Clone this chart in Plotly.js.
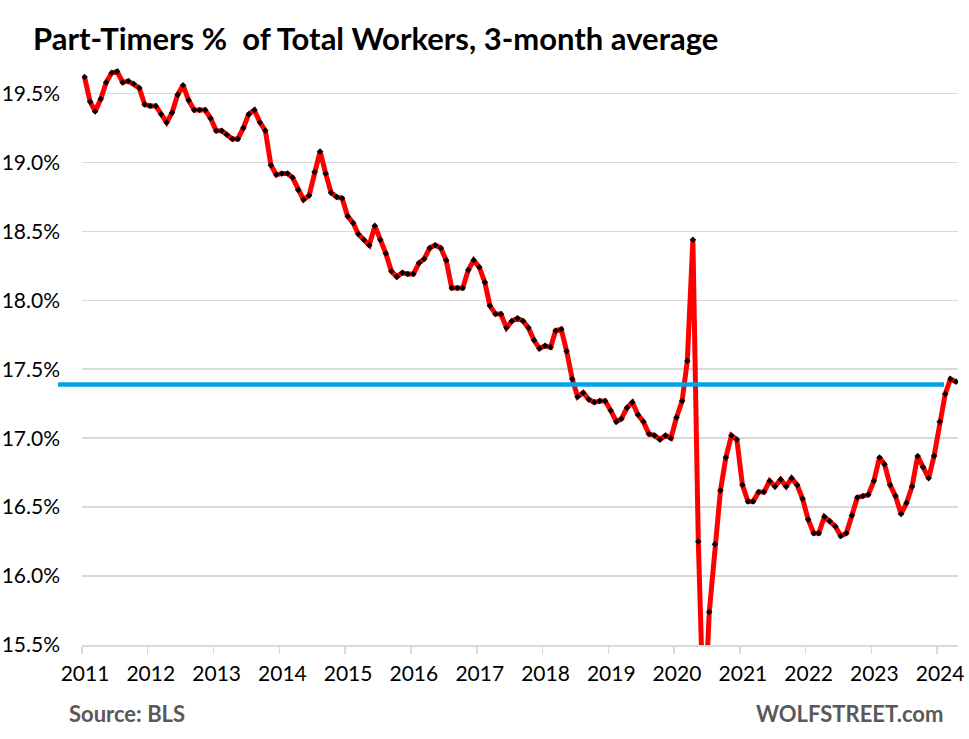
<!DOCTYPE html>
<html>
<head>
<meta charset="utf-8">
<script src="https://cdn.plot.ly/plotly-3.0.1.min.js"></script>
<style>html,body{margin:0;padding:0;background:#fff;}#chart{width:969px;height:739px;}</style>
</head>
<body>
<div id="chart"></div>
<script>
// Monthly data, Jan 2011 .. Apr 2024 (3-month average, % of total workers)
const startYear = 2011;
const v2011 = [19.62, 19.44, 19.37, 19.46, 19.58, 19.65, 19.66, 19.58, 19.59, 19.57, 19.54, 19.42];
const v2012 = [19.41, 19.41, 19.35, 19.29, 19.36, 19.49, 19.56, 19.45, 19.38, 19.38, 19.38, 19.32];
const v2013 = [19.23, 19.23, 19.20, 19.17, 19.17, 19.25, 19.35, 19.38, 19.29, 19.23, 18.98, 18.91];
const v2014 = [18.92, 18.92, 18.89, 18.80, 18.73, 18.76, 18.93, 19.08, 18.92, 18.78, 18.75, 18.74];
const v2015 = [18.61, 18.56, 18.48, 18.44, 18.40, 18.54, 18.44, 18.34, 18.21, 18.17, 18.20, 18.19];
const v2016 = [18.19, 18.27, 18.30, 18.38, 18.40, 18.38, 18.29, 18.09, 18.09, 18.09, 18.22, 18.29];
const v2017 = [18.24, 18.13, 17.96, 17.90, 17.90, 17.80, 17.85, 17.87, 17.85, 17.80, 17.71, 17.65];
const v2018 = [17.67, 17.66, 17.78, 17.79, 17.63, 17.43, 17.30, 17.33, 17.28, 17.26, 17.27, 17.27];
const v2019 = [17.20, 17.12, 17.14, 17.22, 17.26, 17.17, 17.12, 17.03, 17.02, 16.99, 17.02, 17.00];
const v2020 = [17.15, 17.27, 17.56, 18.44, 16.25, 14.90, 15.74, 16.23, 16.62, 16.86, 17.02, 16.99];
const v2021 = [16.66, 16.54, 16.54, 16.61, 16.61, 16.69, 16.65, 16.70, 16.65, 16.71, 16.66, 16.56];
const v2022 = [16.41, 16.31, 16.31, 16.43, 16.40, 16.36, 16.29, 16.31, 16.44, 16.57, 16.58, 16.59];
const v2023 = [16.69, 16.86, 16.81, 16.66, 16.58, 16.45, 16.53, 16.65, 16.87, 16.79, 16.71, 16.87];
const v2024 = [17.12, 17.32, 17.43, 17.41];
const referenceLevel = 17.39;   // horizontal blue reference line
const yTickVals = [15.5, 16.0, 16.5, 17.0, 17.5, 18.0, 18.5, 19.0, 19.5];
const yTickText = yTickVals.map(v => v.toFixed(1) + '%');

const values = [].concat(v2011, v2012, v2013, v2014, v2015, v2016, v2017,
                         v2018, v2019, v2020, v2021, v2022, v2023, v2024);
const months = values.map((_, i) => {
  const y = startYear + Math.floor(i / 12);
  const m = (i % 12) + 1;
  return y + '-' + String(m).padStart(2, '0') + '-15';
});

const FONT = 'Lato, "Open Sans", "DejaVu Sans", sans-serif';

const trace = {
  x: months,
  y: values,
  type: 'scatter',
  mode: 'lines+markers',
  line: {color: '#FF0000', width: 5},
  marker: {symbol: 'diamond', size: 5, color: '#000000'},
  hoverinfo: 'skip'
};

const layout = {
  width: 969,
  height: 739,
  paper_bgcolor: '#ffffff',
  plot_bgcolor: '#ffffff',
  margin: {l: 82, r: 11, t: 59, b: 94},
  showlegend: false,
  font: {family: FONT, color: '#000000'},
  title: {
    text: '<b>Part-Timers %  of Total Workers, 3-month average</b>',
    font: {family: FONT, size: 31, color: '#000000'},
    xref: 'container', yref: 'container',
    x: 33 / 969, xanchor: 'left',
    y: 1 - 39 / 739, yanchor: 'middle'
  },
  xaxis: {
    type: 'date',
    range: ['2011-01-01', '2024-04-26'],
    tick0: '2011-01-01',
    dtick: 'M12',
    tickformat: '%Y',
    ticks: 'outside',
    ticklen: 7,
    tickwidth: 1.5,
    tickcolor: '#D9D9D9',
    showgrid: false,
    showline: true,
    linecolor: '#D9D9D9',
    linewidth: 2,
    zeroline: false,
    ticklabelstandoff: 2,
    ticklabelshift: 3,
    tickfont: {family: FONT, size: 21, color: '#000000'}
  },
  yaxis: {
    range: [15.5, 19.75],
    tickmode: 'array',
    tickvals: yTickVals,
    ticktext: yTickText,
    showgrid: true,
    gridcolor: '#D9D9D9',
    gridwidth: 1.5,
    zeroline: false,
    showline: false,
    ticks: '',
    ticklabelstandoff: 21,
    tickfont: {family: FONT, size: 21, color: '#000000'}
  },
  shapes: [{
    type: 'line',
    xref: 'paper', yref: 'y',
    x0: -0.0274, x1: 0.984,
    y0: referenceLevel, y1: referenceLevel,
    line: {color: '#00A2E8', width: 4.5},
    layer: 'above'
  }],
  annotations: [
    {
      text: '<b>Source: BLS</b>',
      xref: 'paper', yref: 'paper',
      x: (67 - 82) / 876, xanchor: 'left',
      y: -(713 - 645) / 586, yanchor: 'middle',
      showarrow: false,
      font: {family: FONT, size: 22, color: '#595959'}
    },
    {
      text: '<b>WOLFSTREET.com</b>',
      xref: 'paper', yref: 'paper',
      x: (945 - 82) / 876, xanchor: 'right',
      y: -(713 - 645) / 586, yanchor: 'middle',
      showarrow: false,
      font: {family: FONT, size: 22, color: '#595959'}
    }
  ]
};

Plotly.newPlot('chart', [trace], layout, {displayModeBar: false, staticPlot: true});
</script>
</body>
</html>
